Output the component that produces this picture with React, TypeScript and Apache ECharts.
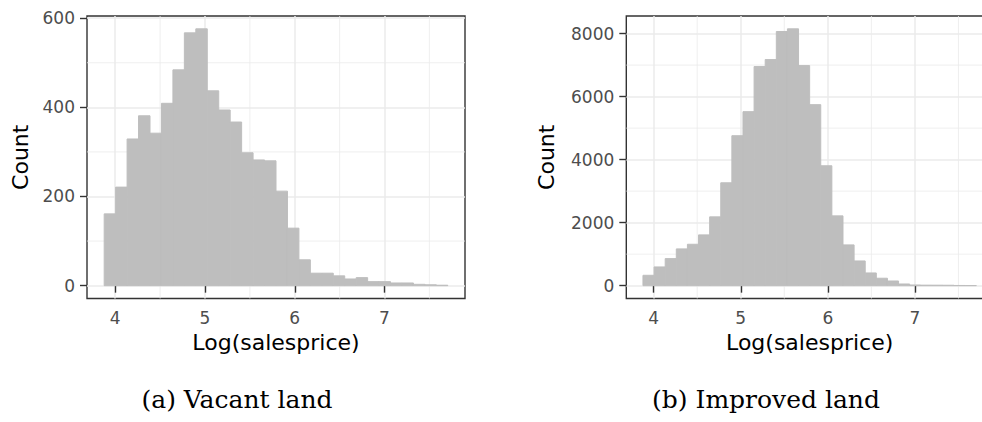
import React, { useEffect, useRef } from "react";
import * as echarts from "echarts";

// Histogram bins (30 bins, shared definition)
const binStart = 3.877;
const binWidth = 0.1276;
const vacantCounts = [161, 221, 329, 381, 342, 409, 484, 567, 576, 437, 394, 367, 298, 282, 280, 212, 129, 58, 28, 28, 22, 15, 18, 9, 9, 6, 6, 3, 2, 1];
const improvedCounts = [329, 594, 859, 1166, 1314, 1611, 2184, 3265, 4759, 5523, 6954, 7176, 8067, 8151, 6985, 5745, 3805, 2215, 1293, 784, 403, 236, 148, 53, 21, 16, 15, 13, 6, 5];

const xTicks = [4, 5, 6, 7];
const xMinor = [4.5, 5.5, 6.5, 7.5];
const vacantYTicks = [0, 200, 400, 600];
const vacantYMinor = [100, 300, 500];
const improvedYTicks = [0, 2000, 4000, 6000, 8000];
const improvedYMinor = [1000, 3000, 5000, 7000];

const captions = ["(a) Vacant land", "(b) Improved land"];
const xTitle = "Log(salesprice)";
const yTitle = "Count";

const SANS = "DejaVu Sans";
const SERIF = "DejaVu Serif";
const BAR = "#BEBEBE";
const GRID = "#EBEBEB";
const DARK = "#333333";

function binData(counts: number[]) {
  return counts.map((c, i) => [binStart + i * binWidth, binStart + (i + 1) * binWidth, c]);
}

function xExtent() {
  const lo = binStart;
  const hi = binStart + vacantCounts.length * binWidth;
  const pad = (hi - lo) * 0.05;
  return [lo - pad, hi + pad];
}

function yExtent(counts: number[]) {
  const mx = Math.max(...counts);
  return [-mx * 0.05, mx * 1.05];
}

export default function App() {
  const ref = useRef<HTMLDivElement>(null);
  useEffect(() => {
    if (!ref.current) return;
    const chart = echarts.init(ref.current, undefined, { renderer: "svg" });
    const [xmin, xmax] = xExtent();
    const panels = [
      { counts: vacantCounts, yTicks: vacantYTicks, yMinor: vacantYMinor, left: 87, width: 378, nameGap: 56, caption: captions[0], capX: 237 },
      { counts: improvedCounts, yTicks: improvedYTicks, yMinor: improvedYMinor, left: 626.3, width: 366.7, nameGap: 69, caption: captions[1], capX: 766 },
    ];
    const grids: any[] = [];
    const xAxes: any[] = [];
    const yAxes: any[] = [];
    const series: any[] = [];
    const graphics: any[] = [];
    const fmt = (v: number) => String(Math.round(v));
    panels.forEach((p, i) => {
      const [ymin, ymax] = yExtent(p.counts);
      grids.push({
        left: p.left,
        top: 16,
        width: p.width,
        height: 282.5,
        show: true,
        borderColor: DARK,
        borderWidth: 1.4,
        backgroundColor: "transparent",
        containLabel: false,
        outerBoundsMode: "none",
      });
      xAxes.push({
        type: "value",
        gridIndex: i,
        min: xmin,
        max: xmax,
        name: xTitle,
        nameLocation: "middle",
        nameGap: 33,
        nameTextStyle: { fontFamily: SANS, fontSize: 22, color: "#000" },
        axisLine: { show: false },
        axisTick: { show: true, length: 7, lineStyle: { color: DARK, width: 1.4 }, customValues: xTicks },
        axisLabel: { show: true, margin: 11, fontFamily: SANS, fontSize: 17, color: "#4D4D4D", customValues: xTicks, formatter: fmt },
        splitLine: { show: true, lineStyle: { color: GRID, width: 1.5 } },
      });
      yAxes.push({
        type: "value",
        gridIndex: i,
        min: ymin,
        max: ymax,
        name: yTitle,
        nameLocation: "middle",
        nameGap: p.nameGap,
        nameRotate: 90,
        nameTextStyle: { fontFamily: SANS, fontSize: 22, color: "#000" },
        axisLine: { show: false },
        axisTick: { show: true, length: 7, lineStyle: { color: DARK, width: 1.4 }, customValues: p.yTicks },
        axisLabel: { show: true, margin: 12, fontFamily: SANS, fontSize: 17, color: "#4D4D4D", customValues: p.yTicks, formatter: fmt },
        splitLine: { show: true, lineStyle: { color: GRID, width: 1.5 } },
      });
      const minorData = [
        ...xMinor.map((v) => [0, v]),
        ...p.yMinor.map((v) => [1, v]),
      ];
      series.push({
        type: "custom",
        xAxisIndex: i,
        yAxisIndex: i,
        z: 1,
        silent: true,
        data: minorData,
        encode: { x: -1, y: -1 },
        renderItem: (params: any, api: any) => {
          const kind = api.value(0);
          const v = api.value(1);
          const cs = params.coordSys;
          if (kind === 0) {
            const x = api.coord([v, 0])[0];
            return { type: "line", shape: { x1: x, y1: cs.y, x2: x, y2: cs.y + cs.height }, style: { stroke: GRID, lineWidth: 0.8 } };
          }
          const y = api.coord([xmin, v])[1];
          return { type: "line", shape: { x1: cs.x, y1: y, x2: cs.x + cs.width, y2: y }, style: { stroke: GRID, lineWidth: 0.8 } };
        },
      });
      series.push({
        type: "custom",
        xAxisIndex: i,
        yAxisIndex: i,
        z: 2,
        data: binData(p.counts),
        encode: { x: [0, 1], y: 2 },
        renderItem: (params: any, api: any) => {
          const p0 = api.coord([api.value(0), api.value(2)]);
          const p1 = api.coord([api.value(1), 0]);
          return {
            type: "rect",
            shape: { x: p0[0], y: p0[1], width: p1[0] - p0[0], height: p1[1] - p0[1] },
            style: { fill: BAR, stroke: BAR, lineWidth: 1 },
          };
        },
      });
      graphics.push({
        type: "text",
        x: p.capX,
        y: 399,
        style: { text: p.caption, fontFamily: SERIF, fontSize: 25, fill: "#000", textAlign: "center", textVerticalAlign: "middle" },
      });
    });
    chart.setOption({
      animation: false,
      backgroundColor: "#fff",
      grid: grids,
      xAxis: xAxes,
      yAxis: yAxes,
      series,
      graphic: graphics,
    });
    return () => chart.dispose();
  }, []);
  return (
    <div style={{ position: "absolute", left: 0, top: 0, width: 982, height: 422, overflow: "hidden", background: "#fff" }}>
      <div ref={ref} style={{ width: 1010, height: 422 }} />
    </div>
  );
}
